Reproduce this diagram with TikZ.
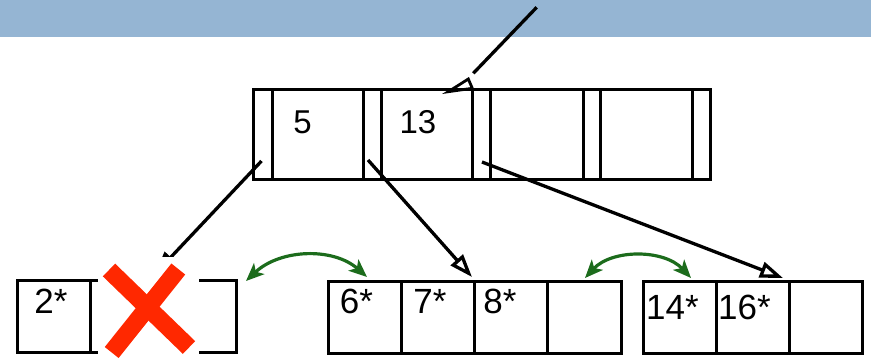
\documentclass[tikz,border=0pt]{standalone}
\usepackage{fontspec}
\setmainfont{Liberation Sans}
\usetikzlibrary{arrows.meta}
\definecolor{bandblue}{RGB}{149,181,211}
\definecolor{ptrgreen}{RGB}{28,108,28}
\definecolor{xred}{RGB}{255,40,0}
\begin{document}
\begin{tikzpicture}[x=1pt,y=-1pt,
  rcell/.style={draw, line width=3pt, anchor=north west, minimum height=90pt, inner sep=0pt, outer sep=0pt},
  lcell/.style={draw, line width=3pt, anchor=north west, minimum width=73.3pt, minimum height=72pt, inner sep=0pt, outer sep=0pt},
  rkey/.style={anchor=base, inner sep=0pt, font=\fontsize{33}{33}\selectfont},
  lkey/.style={anchor=base, inner sep=0pt, font=\fontsize{35}{35}\selectfont},
  ptr/.style={line width=3.3pt, -{Triangle[open, length=23pt, width=16pt]}},
  gptr/.style={ptrgreen, line width=3.2pt, {Stealth[length=18pt, width=15pt, inset=4.5pt]}-{Stealth[length=18pt, width=15pt, inset=4.5pt]}}
]
\useasboundingbox (0,0) rectangle (871,357);
\fill[bandblue] (0,0) rectangle (871,37);

% root node
\node[rcell, minimum width=19pt] (p1) at (253,89) {};
\node[rcell, minimum width=91pt] (k1) at (272,89) {};
\node[rcell, minimum width=18pt] (p2) at (363,89) {};
\node[rcell, minimum width=91pt] (k2) at (381,89) {};
\node[rcell, minimum width=18pt] (p3) at (472,89) {};
\node[rcell, minimum width=93pt] (k3) at (490,89) {};
\node[rcell, minimum width=17pt] (p4) at (583,89) {};
\node[rcell, minimum width=92pt] (k4) at (600,89) {};
\node[rcell, minimum width=18pt] (p5) at (692,89) {};
\node[rkey] (t5) at (302.5,133) {5};
\node[rkey] (t13) at (418,133) {13};

% left leaf
\node[lcell] (l1) at (17,280) {};
\node[lcell] (l2) at (90.3,280) {};
\node[lcell] (l3) at (163.6,280) {};
\node[lkey] (t2) at (51,313.3) {2*};

% middle leaf
\node[lcell] (m1) at (328,281.5) {};
\node[lcell] (m2) at (401.3,281.5) {};
\node[lcell] (m3) at (474.6,281.5) {};
\node[lcell] (m4) at (547.9,281.5) {};
\node[lkey] (t6) at (356.5,313.3) {6*};
\node[lkey] (t7) at (430,313.3) {7*};
\node[lkey] (t8) at (500,313.3) {8*};

% right leaf
\node[lcell] (r1) at (643,281.5) {};
\node[lcell] (r2) at (716.3,281.5) {};
\node[lcell] (r3) at (789.6,281.5) {};
\node[lkey] (t14) at (672.5,319) {14*};
\node[lkey] (t16) at (744.5,319) {16*};

% incoming pointer at top
\coordinate (a0) at (536.7,7.3);
\coordinate (a1) at (473.3,73.3);
\draw[line width=3.3pt] (a0) -- (a1);
\draw[line width=2.8pt, line join=miter] (448.3,91.7) -- (468.3,79) -- (472.3,88.3) -- cycle;

% child pointers
\coordinate (s1) at (261.5,161);
\coordinate (e1) at (155,274);
\coordinate (s2) at (368,160);
\coordinate (e2) at (472,277);
\coordinate (s3) at (482,162);
\coordinate (e3) at (783,278);
\draw[ptr] (s1) -- (e1);
\draw[ptr] (s2) -- (e2);
\draw[ptr] (s3) -- (e3);

% sibling links
\coordinate (g1) at (246,281);
\coordinate (g2) at (367,277);
\coordinate (g3) at (585,278);
\coordinate (g4) at (691,278);
\draw[gptr] (g1) .. controls (280,249) and (333,247) .. (g2);
\draw[gptr] (g3) .. controls (612,249) and (664,249) .. (g4);

% deleted-entry cross
\fill[white] (98,257) rectangle (199,360);
\draw[xred, line width=17.7pt] (109,270) -- (189,347.5);
\draw[xred, line width=17.7pt] (178.3,269) -- (111.7,352.5);
\end{tikzpicture}
\end{document}
